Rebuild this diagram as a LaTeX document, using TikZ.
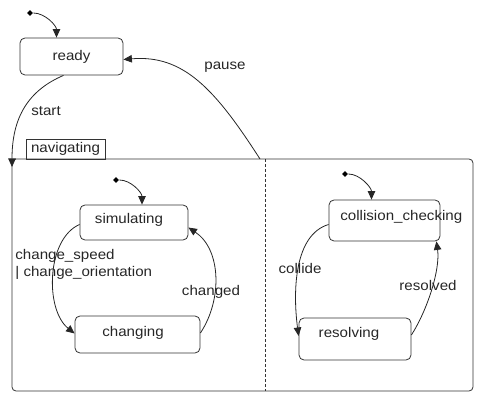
\documentclass[tikz,border=0pt]{standalone}
\usepackage{fontspec}
\setmainfont{Liberation Sans}[FakeStretch=1.08]
\usetikzlibrary{arrows.meta,shapes.geometric}

\begin{document}
\begin{tikzpicture}[x=1pt,y=-1pt,line width=.8pt,
  every node/.style={font=\fontsize{14}{17}\selectfont,text=black!85},
  state/.style={draw=black!80,rounded corners=5pt,inner sep=0pt},
  initdot/.style={diamond,fill=black,inner sep=0pt,minimum size=6pt},
  trans/.style={draw=black!85,-{Triangle[length=8.5pt,width=7.5pt]}}]
\useasboundingbox (0,0) rectangle (477,393);
\node[state,minimum width=461pt,minimum height=232pt,rounded corners=4pt] (navigating) at (242.5,275) {};
\node[draw=black!80,minimum width=79pt,minimum height=20pt,inner sep=0pt] (navtab) at (65.5,149) {navigating};
\draw[black!80,dash pattern=on 3pt off 2pt] (265,159) -- (265,391);
\node[state,minimum width=103pt,minimum height=37pt] (ready) at (71.5,56.5) {ready};
\node[state,minimum width=108pt,minimum height=35pt] (simulating) at (134,222.5) {};
\node (simtext) at (129,220) {simulating};
\node[state,minimum width=125pt,minimum height=37pt] (changing) at (137.5,334.5) {};
\node (chgtext) at (133,333) {changing};
\node[state,minimum width=111pt,minimum height=41pt] (collision) at (384.5,220.5) {};
\node[anchor=west,inner sep=0pt] (coltext) at (340,217) {collision\_checking};
\node[state,minimum width=112pt,minimum height=42pt] (resolving) at (355,339) {};
\node (restext) at (349,334) {resolving};
\node[initdot] (i0) at (30,13) {};
\node[initdot] (i1) at (116,180) {};
\node[initdot] (i2) at (345,174) {};
\coordinate (pausefrom) at (260,159);
\coordinate (startto) at (12,167);
\draw[trans] (i0) .. controls +(15,0) and +(0,-12) .. ([xshift=-15pt]ready.north);
\draw[trans] (i1) .. controls +(15,0) and +(0,-12) .. ([xshift=8pt]simulating.north);
\draw[trans] (i2) .. controls +(15,0) and +(0,-12) .. ([xshift=-13pt]collision.north);
\draw[trans] (pausefrom) .. controls +(-45,-70) and +(60,-5) .. ([yshift=-3pt]ready.east);
\draw[trans] ([xshift=-8pt]ready.south) .. controls +(-35,15) and +(0,-50) .. (startto);
\draw[trans] ([yshift=-2pt]simulating.west) .. controls +(-33,14) and +(-30,-24) .. ([yshift=1pt]changing.west);
\draw[trans] ([yshift=1.5pt]changing.east) .. controls +(22,-33) and +(33,22) .. ([yshift=-5pt]simulating.east);
\draw[trans] ([yshift=-4pt]collision.west) .. controls +(-34,10) and +(-6,-46) .. ([yshift=3pt]resolving.west);
\draw[trans] ([yshift=4pt]resolving.east) .. controls +(16,-25) and +(4,28) .. ([xshift=-4pt]collision.south east);
\node (pause) at (225,67) {pause};
\node (start) at (46,111) {start};
\node[anchor=west,align=left,inner sep=0pt] (chglabel) at (15,264.5) {change\_speed\\| change\_orientation};
\node (changed) at (211,292) {changed};
\node (collide) at (300,268) {collide};
\node (resolved) at (428,285) {resolved};
\end{tikzpicture}
\end{document}
